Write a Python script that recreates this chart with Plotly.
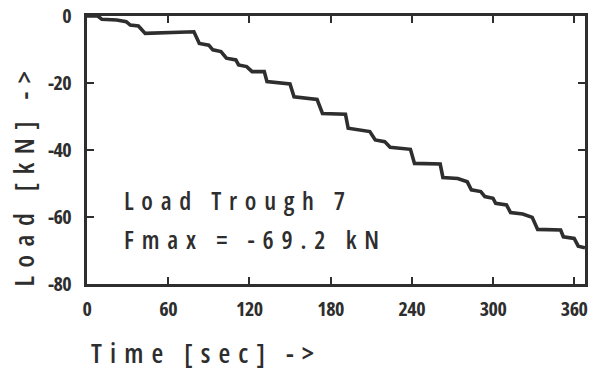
import plotly.graph_objects as go

# Corner points of the staircase load trace
time_s = [0, 8, 11, 22, 29, 32, 38, 43, 79, 83, 90, 93, 99, 103, 110, 112, 118, 122,
          131, 133, 150, 153, 170, 174, 191, 193, 209, 213, 220, 224, 239, 242,
          261, 263, 274, 281, 284, 291, 294, 300, 302, 310, 313, 322, 329, 333,
          350, 352, 360, 363, 368]
load_kn = [0, 0, -1.0, -1.2, -1.7, -2.7, -3.0, -5.2, -4.7, -8.2, -8.7, -10.1, -10.6, -12.6,
           -13.1, -14.6, -15.1, -16.6, -16.6, -19.6, -20.3, -24.1, -24.9, -29.1, -29.3,
           -33.5, -34.5, -37.0, -37.5, -39.2, -39.8, -44.0, -44.2, -48.2, -48.5, -49.5,
           -51.9, -52.4, -53.9, -54.4, -55.9, -56.4, -58.7, -59.1, -60.1, -63.7, -63.9,
           -65.9, -66.4, -68.7, -69.2]

x_ticks = [0, 60, 120, 180, 240, 300, 360]
y_ticks = [0, -20, -40, -60, -80]
x_title = "Time [sec] ->"
y_title = "Load [kN] ->"
note_lines = ["Load Trough 7", "Fmax = -69.2 kN"]

FONT = "Open Sans"
INK = "#2e2e2e"


def styled(txt, spacing=0, weight=600):
    style = f"font-family:{FONT};font-stretch:condensed;font-weight:{weight};"
    if spacing:
        style += f"letter-spacing:{spacing}px;"
    return f'<span style="{style}">{txt}</span>'


fig = go.Figure()
fig.add_trace(go.Scatter(x=time_s, y=load_kn, mode="lines",
                         line=dict(color=INK, width=3.6), hoverinfo="skip"))

axis_common = dict(showgrid=False, zeroline=False, showline=True, linecolor=INK,
                   linewidth=2.5, mirror="ticks", ticks="inside", ticklen=7,
                   tickwidth=2.2, tickcolor=INK, ticklabeloverflow="allow",
                   tickfont=dict(family=FONT, size=20, color=INK))
fig.update_xaxes(range=[0, 368], tickvals=x_ticks,
                 ticktext=[styled(str(v), -0.5, 700) for v in x_ticks],
                 ticklabelstandoff=5, **axis_common)
fig.update_yaxes(range=[-80, 0], tickvals=y_ticks,
                 ticktext=[styled(str(v), -0.5, 700) for v in y_ticks],
                 ticklabelstandoff=9, **axis_common)

annos = [
    dict(text=styled(x_title, spacing=8.1), x=0.004, y=-0.254,
         xref="paper", yref="paper", xanchor="left", yanchor="middle", showarrow=False,
         font=dict(family=FONT, size=27, color=INK)),
    dict(text=styled(y_title, spacing=8.5), x=-0.128, y=0.41,
         xref="paper", yref="paper", xanchor="center", yanchor="middle", textangle=-90,
         showarrow=False, font=dict(family=FONT, size=27, color=INK)),
    dict(text=styled(note_lines[0], spacing=7.7), x=0.070, y=0.312,
         xref="paper", yref="paper", xanchor="left", yanchor="middle", showarrow=False,
         font=dict(family=FONT, size=25, color=INK)),
    dict(text=styled(note_lines[1], spacing=7.8), x=0.070, y=0.168,
         xref="paper", yref="paper", xanchor="left", yanchor="middle", showarrow=False,
         font=dict(family=FONT, size=25, color=INK)),
]
fig.update_layout(width=590, height=372, margin=dict(l=87, r=2, t=16, b=88),
                  paper_bgcolor="white", plot_bgcolor="white", showlegend=False,
                  annotations=annos)

fig.write_html("out.html", config={"displayModeBar": False},
               post_script="document.body.style.margin='0';")
